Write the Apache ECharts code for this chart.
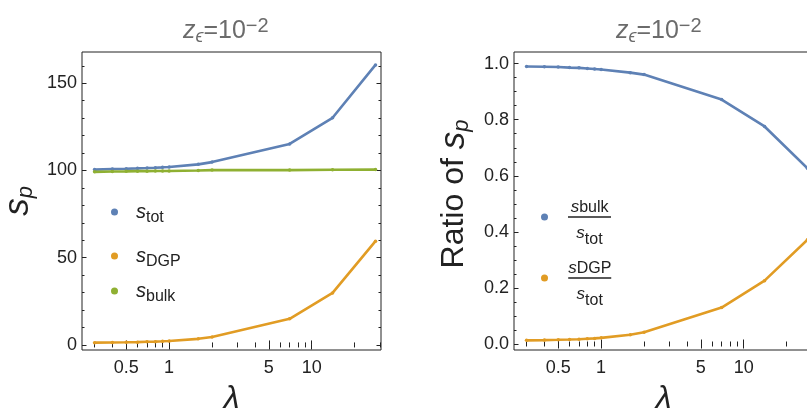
<!DOCTYPE html>
<html>
<head>
<meta charset="utf-8">
<script src="https://cdn.jsdelivr.net/npm/echarts@6/dist/echarts.min.js"></script>
<style>
html, body { margin: 0; padding: 0; background: #fff; }
#main { width: 807px; height: 409px; }
</style>
</head>
<body>
<div id="main"></div>
<script>
// data
var lambda = [0.3, 0.4, 0.5, 0.6, 0.7, 0.8, 0.9, 1, 1.6, 2, 7, 14, 28]
var sTot = [100.5, 100.8, 101, 101.2, 101.4, 101.6, 101.8, 102, 103.5, 104.8, 115.2, 130.2, 160.5]
var sDGP = [1.3, 1.4, 1.5, 1.6, 1.8, 1.9, 2.1, 2.3, 3.5, 4.6, 15, 29.8, 59.5]
var sBulk = [99.2, 99.4, 99.5, 99.6, 99.6, 99.7, 99.7, 99.7, 100, 100.2, 100.2, 100.4, 100.5]
var ratioBulk = [0.99, 0.989, 0.988, 0.986, 0.985, 0.983, 0.981, 0.979, 0.968, 0.961, 0.872, 0.776, 0.627]
var ratioDGP = [0.013, 0.014, 0.015, 0.016, 0.017, 0.019, 0.02, 0.022, 0.033, 0.042, 0.13, 0.226, 0.372]

// tick labels
var xMajor = [0.5, 1, 5, 10]
var xMinor = [0.3, 0.4, 0.6, 0.7, 0.8, 0.9, 2, 3, 4, 6, 7, 8, 9, 20, 30]
var spMajor = [0, 50, 100, 150]
var spMinor = [10, 20, 30, 40, 60, 70, 80, 90, 110, 120, 130, 140, 160]
var ratioMajor = [0, 0.2, 0.4, 0.6, 0.8, 1.0]
var ratioMinor = [0.05, 0.1, 0.15, 0.25, 0.3, 0.35, 0.45, 0.5, 0.55, 0.65, 0.7, 0.75, 0.85, 0.9, 0.95]

var FONT = 'Liberation Sans'
var INK = '#222'
var GREY = '#6b6b6b'
var colors = ['#5E81B5', '#E19C24', '#8FB032']

function pairs(ys) {
  return lambda.map(function (l, i) { return [l, ys[i]] })
}

// text style shortcut
function ts(size, extra) {
  var o = { fontSize: size, fontFamily: FONT, color: INK, fontWeight: 'normal' }
  for (var k in extra) o[k] = extra[k]
  return o
}

// one axis per tick set: major / minor, bottom / top
function xAx(grid, pos, ticks, len, label) {
  var ax = {
    type: 'log', logBase: 10, gridIndex: grid, position: pos,
    min: 0.245, max: 30.6,
    axisLine: { show: false },
    splitLine: { show: false },
    axisTick: { show: true, inside: true, length: len, customValues: ticks, lineStyle: { color: INK, width: 1 } },
    axisLabel: { show: false }
  }
  if (label) {
    ax.axisLabel = {
      show: true, customValues: ticks, margin: 9, fontSize: 18, color: INK, fontFamily: FONT,
      formatter: function (v) { return String(+(+v).toPrecision(6)) }
    }
    ax.name = 'λ'
    ax.nameLocation = 'middle'
    ax.nameGap = 33
    ax.nameTextStyle = ts(32, { fontStyle: 'italic' })
  }
  return ax
}

function yAx(grid, pos, range, ticks, len, label, name, nameGap, namePad, bigSize) {
  var ax = {
    type: 'value', gridIndex: grid, position: pos,
    min: range[0], max: range[1],
    axisLine: { show: false },
    splitLine: { show: false },
    axisTick: { show: true, inside: true, length: len, customValues: ticks, lineStyle: { color: INK, width: 1 } },
    axisLabel: { show: false }
  }
  if (label) {
    ax.axisLabel = {
      show: true, customValues: ticks, margin: 5, fontSize: 18, color: INK, fontFamily: FONT,
      formatter: label
    }
    ax.name = name
    ax.nameLocation = 'middle'
    ax.nameGap = nameGap
    ax.nameRotate = 90
    ax.nameTextStyle = ts(28, {
      padding: namePad,
      rich: {
        big: ts(bigSize, { lineHeight: 38 }),
        s: ts(35, { fontStyle: 'italic', lineHeight: 38 }),
        p: ts(22, { fontStyle: 'italic', lineHeight: 16, verticalAlign: 'bottom' })
      }
    })
  }
  return ax
}

var spRange = [-2.9, 167.9]
var ratioRange = [-0.0214, 1.0416]

var legendRich = {
  s: ts(20, { fontStyle: 'italic', lineHeight: 28 }),
  sub: ts(16, { lineHeight: 14, verticalAlign: 'bottom' }),
  ns: ts(17, { fontStyle: 'italic', lineHeight: 18, verticalAlign: 'bottom', align: 'center' }),
  nsub: ts(16, { lineHeight: 12, verticalAlign: 'bottom', align: 'center' }),
  npad: ts(1, { lineHeight: 22, align: 'center' }),
  bar: ts(1, { width: 43, height: 1.4, lineHeight: 2, backgroundColor: INK, align: 'center' }),
  ds: ts(17, { fontStyle: 'italic', lineHeight: 30, align: 'center' }),
  dsub: ts(16, { lineHeight: 16, verticalAlign: 'bottom', align: 'center' })
}

function legendAt(name, left, top, text, pad) {
  return {
    data: [name], left: left, top: top, padding: 0,
    icon: 'circle', itemWidth: 7, itemHeight: 7,
    selectedMode: false,
    textStyle: { padding: pad, rich: legendRich },
    formatter: function () { return text }
  }
}

var titleRich = {
  z: ts(25, { fontStyle: 'italic', color: GREY, lineHeight: 30 }),
  e: ts(18, { fontStyle: 'italic', color: GREY, lineHeight: 12, verticalAlign: 'bottom' }),
  n: ts(25, { color: GREY, lineHeight: 30 }),
  p: ts(20, { color: GREY, lineHeight: 12, verticalAlign: 'top' })
}

var option = {
  animation: false,
  backgroundColor: '#fff',
  title: [
    { text: '{z|z}{e|ϵ}{n|=10}{p|−2}', left: 183, top: 16, padding: 0, textStyle: { fontWeight: 'normal', rich: titleRich } },
    { text: '{z|z}{e|ϵ}{n|=10}{p|−2}', left: 616, top: 16, padding: 0, textStyle: { fontWeight: 'normal', rich: titleRich } }
  ],
  grid: [
    { left: 82, top: 52, width: 299, height: 298, show: true, borderColor: INK, borderWidth: 1, backgroundColor: 'transparent', containLabel: false, outerBoundsMode: 'none' },
    { left: 514, top: 52, width: 299, height: 298, show: true, borderColor: INK, borderWidth: 1, backgroundColor: 'transparent', containLabel: false, outerBoundsMode: 'none' }
  ],
  xAxis: [
    xAx(0, 'bottom', xMajor, 4.5, true),
    xAx(0, 'bottom', xMinor, 2.5, false),
    xAx(0, 'top', xMajor, 4.5, false),
    xAx(0, 'top', xMinor, 2.5, false),
    xAx(1, 'bottom', xMajor, 4.5, true),
    xAx(1, 'bottom', xMinor, 2.5, false),
    xAx(1, 'top', xMajor, 4.5, false),
    xAx(1, 'top', xMinor, 2.5, false)
  ],
  yAxis: [
    yAx(0, 'left', spRange, spMajor, 4.5, function (v) { return String(Math.round(v)) }, '{s|s}{p|p}', 45, 0, 31),
    yAx(0, 'left', spRange, spMinor, 2.5, false),
    yAx(0, 'right', spRange, spMajor, 4.5, false),
    yAx(0, 'right', spRange, spMinor, 2.5, false),
    yAx(1, 'left', ratioRange, ratioMajor, 4.5, function (v) { return (+v).toFixed(1) }, '{big|Ratio of }{s|s}{p|p}', 41, [0, 0, 0, 14], 32),
    yAx(1, 'left', ratioRange, ratioMinor, 2.5, false),
    yAx(1, 'right', ratioRange, ratioMajor, 4.5, false),
    yAx(1, 'right', ratioRange, ratioMinor, 2.5, false)
  ],
  legend: [
    legendAt('tot', 111, 202, '{s|s}{sub|tot}', [0, 0, 0, 13]),
    legendAt('DGP', 111, 246, '{s|s}{sub|DGP}', [0, 0, 0, 13]),
    legendAt('bulk', 111, 281, '{s|s}{sub|bulk}', [0, 0, 0, 13]),
    legendAt('ratio bulk', 541, 199, '{npad| }{ns|s}{nsub|bulk}\n{bar| }\n{ds|s}{dsub|tot}', [8, 0, 0, 15]),
    legendAt('ratio DGP', 541, 260, '{npad| }{ns|s}{nsub|DGP}\n{bar| }\n{ds|s}{dsub|tot}', [8, 0, 0, 15])
  ],
  series: [
    { name: 'tot', data: pairs(sTot), color: colors[0], xAxisIndex: 0, yAxisIndex: 0 },
    { name: 'DGP', data: pairs(sDGP), color: colors[1], xAxisIndex: 0, yAxisIndex: 0 },
    { name: 'bulk', data: pairs(sBulk), color: colors[2], xAxisIndex: 0, yAxisIndex: 0 },
    { name: 'ratio bulk', data: pairs(ratioBulk), color: colors[0], xAxisIndex: 4, yAxisIndex: 4 },
    { name: 'ratio DGP', data: pairs(ratioDGP), color: colors[1], xAxisIndex: 4, yAxisIndex: 4 }
  ].map(function (s) {
    s.type = 'line'
    s.symbol = 'circle'
    s.symbolSize = 3.5
    s.showSymbol = true
    s.lineStyle = { width: 2.6, color: s.color }
    s.itemStyle = { color: s.color }
    return s
  })
}

var myChart = echarts.init(document.getElementById('main'))
myChart.setOption(option)
</script>
</body>
</html>
